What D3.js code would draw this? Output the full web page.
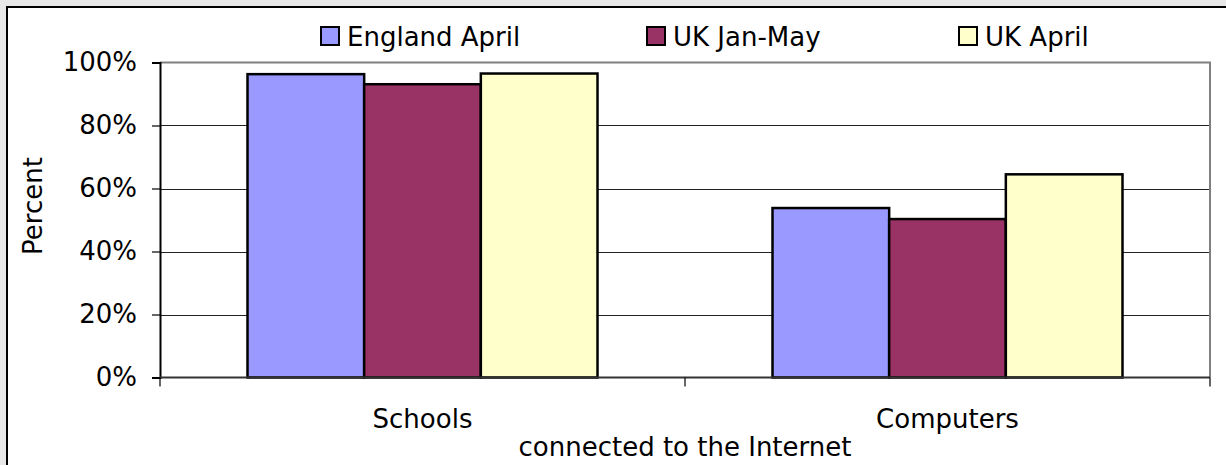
<!DOCTYPE html>
<html><head><meta charset="utf-8">
<script src="https://cdn.jsdelivr.net/npm/d3@7"></script>
<style>
html,body{margin:0;padding:0;background:#e8e8e8;overflow:hidden;}
text{font-family:"DejaVu Sans",Verdana,sans-serif;fill:#000;}
</style></head>
<body><svg id="c" width="1226" height="465"></svg>
<script>
const categories = ["Schools", "Computers"];
const seriesNames = ["England April", "UK Jan-May", "UK April"];
const englandApril = [96.3, 53.8];
const ukJanMay = [93.1, 50.3];
const ukApril = [96.5, 64.5];
const yTicks = [0, 20, 40, 60, 80, 100];
const colors = ["#9999FF", "#993366", "#FFFFCC"];
const seriesValues = [englandApril, ukJanMay, ukApril];

const svg = d3.select("#c");
const L = 160, R = 1210, T = 62.5, B = 377.5;

// outer frame
svg.append("rect").attr("x", 7).attr("y", 7).attr("width", 1240).attr("height", 480)
  .attr("fill", "#fff").attr("stroke", "#000").attr("stroke-width", 2);

const x0 = d3.scaleBand().domain(categories).range([L, R]).paddingInner(1/3).paddingOuter(1/6);
const x1 = d3.scaleBand().domain(seriesNames).range([0, x0.bandwidth()]).padding(0);
const y = d3.scaleLinear().domain([0, 100]).range([B, T]);

// gridlines
svg.append("g").selectAll("line").data(yTicks.filter(d => d > 0 && d < 100)).join("line")
  .attr("x1", L).attr("x2", R).attr("y1", d => Math.round(y(d)) + 0.5).attr("y2", d => Math.round(y(d)) + 0.5)
  .attr("stroke", "#222").attr("stroke-width", 1);

// plot border (top, right) gray
svg.append("path").attr("d", `M${L},${T}H${R}V${B}`).attr("fill", "none")
  .attr("stroke", "#808080").attr("stroke-width", 2);

// bars
const g = svg.append("g");
categories.forEach((c, ci) => {
  seriesNames.forEach((s, si) => {
    const v = seriesValues[si][ci];
    g.append("rect")
      .attr("x", x0(c) + x1(s)).attr("width", x1.bandwidth())
      .attr("y", y(v)).attr("height", y(0) - y(v))
      .attr("fill", colors[si]).attr("stroke", "#000").attr("stroke-width", 2.5);
  });
});

// y axis
const yAxis = d3.axisLeft(y).tickValues(yTicks).tickFormat(d => d + "%").tickSize(8).tickPadding(15);
const ya = svg.append("g").attr("transform", `translate(${L},0)`).call(yAxis);
ya.select(".domain").attr("stroke", "#000").attr("stroke-width", 2);
ya.selectAll(".tick line").attr("stroke", "#000").attr("stroke-width", 1.2);
ya.selectAll(".tick text").attr("font-size", 26).style("font-family", "DejaVu Sans").attr("fill", "#000");

// x axis: domain + boundary ticks
const xa = svg.append("g");
xa.append("line").attr("x1", L).attr("x2", R).attr("y1", B).attr("y2", B).attr("stroke", "#333").attr("stroke-width", 2);
const boundaries = [L, x0(categories[1]) - x0.step() * x0.paddingInner() / 2, R];
xa.selectAll("line.t").data(boundaries).join("line").attr("class", "t")
  .attr("x1", d => d).attr("x2", d => d).attr("y1", B).attr("y2", B + 9)
  .attr("stroke", "#000").attr("stroke-width", 1.2);
xa.selectAll("text").data(categories).join("text")
  .attr("x", d => x0(d) + x0.bandwidth() / 2).attr("y", 428)
  .attr("text-anchor", "middle").attr("font-size", 26).text(d => d);

// axis titles
svg.append("text").attr("x", (L + R) / 2).attr("y", 456).attr("text-anchor", "middle")
  .attr("font-size", 26).text("connected to the Internet");
svg.append("text").attr("transform", "translate(42,206) rotate(-90)").attr("text-anchor", "middle")
  .attr("font-size", 26).text("Percent");

// legend
const legX = [321, 647, 959];
const lg = svg.append("g");
seriesNames.forEach((s, i) => {
  lg.append("rect").attr("x", legX[i]).attr("y", 27).attr("width", 18).attr("height", 18)
    .attr("fill", colors[i]).attr("stroke", "#000").attr("stroke-width", 2);
  lg.append("text").attr("x", legX[i] + 26).attr("y", 45.5).attr("font-size", 26).text(s);
});
</script></body></html>
